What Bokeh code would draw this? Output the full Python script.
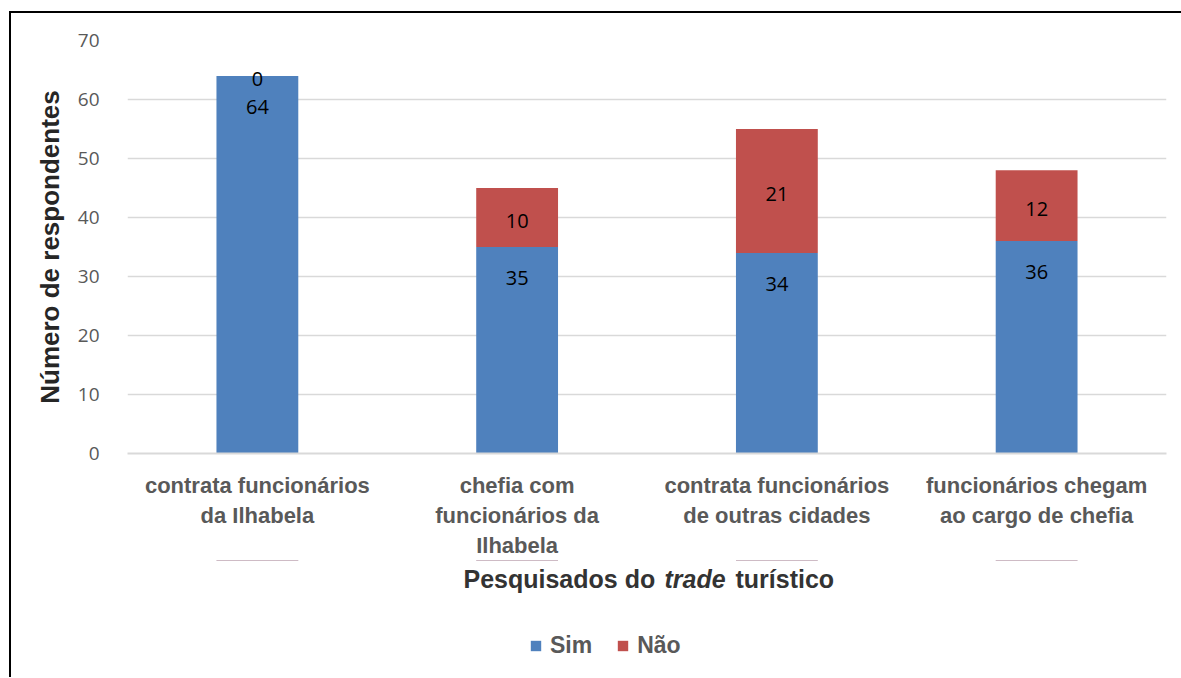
from bokeh.plotting import figure
from bokeh.layouts import column
from bokeh.models import (Legend, LegendItem, Label, ColumnDataSource, FactorRange,
                          Range1d, FixedTicker)
from bokeh.core.properties import value
from bokeh.embed import file_html
from bokeh.resources import INLINE

categories = [
    "contrata funcionários\nda Ilhabela",
    "chefia com\nfuncionários da\nIlhabela",
    "contrata funcionários\nde outras cidades",
    "funcionários chegam\nao cargo de chefia",
]
sim = [64, 35, 34, 36]
nao = [0, 10, 21, 12]
series = ["Sim", "Não"]
colors = ["#4F81BD", "#C0504D"]
y_ticks = [0, 10, 20, 30, 40, 50, 60, 70]
y_title = "Número de respondentes"
x_title_parts = ["Pesquisados do", "trade", "turístico"]

src = ColumnDataSource(dict(
    cat=categories,
    Sim=sim,
    Não=nao,
    sim_lbl=[str(v) for v in sim],
    nao_lbl=[str(v) for v in nao],
    nao_mid=[s + n / 2 for s, n in zip(sim, nao)],
))

W = 1170
x_range = FactorRange(factors=categories, range_padding=0)
p = figure(
    x_range=x_range,
    y_range=Range1d(0, 70),
    width=W, height=547,
    min_border_left=116, min_border_right=15, min_border_top=27, min_border_bottom=104,
    output_backend="svg", toolbar_location=None,
)
p.outline_line_color = None

p.vbar_stack(series, x="cat", width=0.315, color=colors, source=src, line_color=None)

p.text(x="cat", y="Sim", text="sim_lbl", source=src, y_offset=31,
       text_align="center", text_baseline="middle",
       text_font=value("Open Sans"), text_font_size="20px", text_color="black")
p.text(x="cat", y="nao_mid", text="nao_lbl", source=src, y_offset=3,
       text_align="center", text_baseline="middle",
       text_font=value("Open Sans"), text_font_size="20px", text_color="black")

# grid / axes
p.xgrid.visible = False
p.ygrid.grid_line_color = "#D9D9D9"
p.ygrid.grid_line_width = 1.5
p.yaxis.ticker = FixedTicker(ticks=y_ticks)
p.ygrid.ticker = FixedTicker(ticks=y_ticks)

p.yaxis.axis_line_color = None
p.yaxis.major_tick_line_color = None
p.yaxis.minor_tick_line_color = None
p.yaxis.major_label_standoff = 22
p.yaxis.major_label_text_font = "Open Sans"
p.yaxis.major_label_text_font_size = "19px"
p.yaxis.major_label_text_color = "#595959"
p.yaxis.axis_label = y_title
p.yaxis.axis_label_text_font = "Liberation Sans"
p.yaxis.axis_label_text_font_style = "bold"
p.yaxis.axis_label_text_font_size = "26px"
p.yaxis.axis_label_text_color = "#262626"
p.yaxis.axis_label_standoff = 10

p.xaxis.axis_line_color = "#D9D9D9"
p.xaxis.axis_line_width = 2
p.xaxis.major_tick_line_color = None
p.xaxis.minor_tick_line_color = None
p.xaxis.major_label_standoff = 13
p.xaxis.major_label_text_font = "Liberation Sans"
p.xaxis.major_label_text_font_style = "bold"
p.xaxis.major_label_text_font_size = "22px"
p.xaxis.major_label_text_color = "#595959"

# lower strip: x-axis title (with italic word) and legend
p2 = figure(
    x_range=x_range, y_range=Range1d(-2, -1),
    width=W, height=117, min_border=0,
    x_axis_type=None, y_axis_type=None,
    output_backend="svg", toolbar_location=None,
)
p2.outline_line_color = None
p2.grid.visible = False

title_style = dict(x_units="screen", y_units="screen", y=99, text_font="Liberation Sans",
                   text_font_size="25px", text_color="#333333", text_baseline="middle",
                   text_align="left")
p2.add_layout(Label(x=336, text=x_title_parts[0], text_font_style="bold", **title_style))
p2.add_layout(Label(x=537, text=x_title_parts[1], text_font_style="bold italic", **title_style))
p2.add_layout(Label(x=608, text=x_title_parts[2], text_font_style="bold", **title_style))

# legend swatches: same stacked series, kept outside this strip's visible y-range
legend_renderers = p2.vbar_stack(series, x="cat", width=0.315, color=colors, source=src,
                                 line_color=None)
legend = Legend(
    items=[LegendItem(label=s, renderers=[r]) for s, r in zip(series, legend_renderers)],
    orientation="horizontal", location=(402, 18),
    label_text_font="Liberation Sans", label_text_font_style="bold",
    label_text_font_size="23px", label_text_color="#595959",
    glyph_width=13, glyph_height=13, label_standoff=8, spacing=24,
    padding=0, margin=0, border_line_color=None, background_fill_alpha=0,
)
p2.add_layout(legend)

layout = column(p, p2, spacing=0)
layout.styles = {"border-top": "2px solid black", "border-left": "2px solid black",
                 "margin-top": "11px", "margin-left": "9px"}

open("out.html", "w").write(file_html(layout, INLINE))
